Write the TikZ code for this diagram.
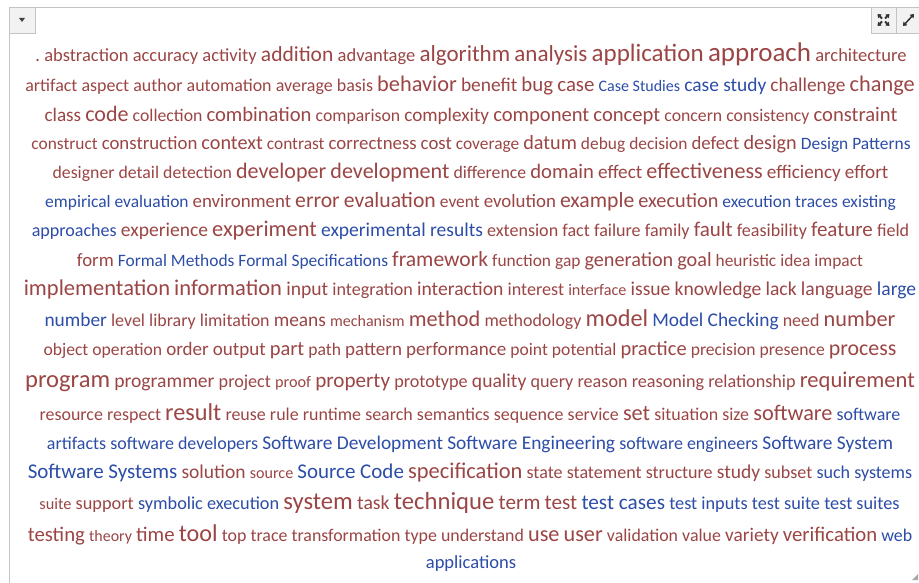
\documentclass[tikz,border=0pt]{standalone}
\usepackage{fontspec}
\setmainfont{Carlito}
\usetikzlibrary{positioning,arrows.meta,calc}
\definecolor{wordred}{HTML}{9B4545}
\definecolor{wordblue}{HTML}{2C4DA8}
\definecolor{framegray}{HTML}{C4C4C4}
\definecolor{btnfill}{HTML}{F2F2F2}
% word sizes, level 0 (smallest) to 6 (largest), times the line factor \lf
\newcommand\lf{1}
\newcommand\wsize[1]{\fpeval{\lf*\ifcase#1 16.5\or 18.5\or 20\or 21.5\or 23\or 25\or 27\fi}}
\newcommand\rw[2]{{\fontsize{\wsize{#1}}{\wsize{#1}}\selectfont #2}}
\newcommand\bw[2]{{\color{wordblue}\fontsize{\wsize{#1}}{\wsize{#1}}\selectfont #2}}

\begin{document}
\begin{tikzpicture}[x=1pt,y=1pt,
    cloudline/.style={anchor=base,inner sep=0pt,text=wordred,
      font=\def\lf{#1}\fontsize{\fpeval{19*#1}}{19}\selectfont},
    cloudline/.default=1,
    panelbtn/.style={fill=btnfill,draw=framegray,line width=0.6pt},
    icon/.style={line width=2pt,black!80,-{Triangle[length=3.5pt,width=5pt]}}]
  \useasboundingbox (0,0) rectangle (919,-583);
  \fill[white] (0,0) rectangle (919,-583);
  % panel frame and buttons
  \draw[framegray,line width=0.8pt] (9,-583) -- (9,-7) -- (919,-7);
  \draw[panelbtn] (9,-7) rectangle (35,-33);
  \fill[black!75] (19,-18) -- (25,-18) -- (22,-22) -- cycle;
  \draw[panelbtn] (871,-7) rectangle (896,-33);
  \draw[panelbtn] (896,-7) rectangle (920,-33);
  \coordinate (xc) at (883.5,-20);
  \foreach \dx/\dy in {1/1,1/-1,-1/1,-1/-1}
    \draw[icon] ($(xc)+(1.5*\dx,1.5*\dy)$) -- ($(xc)+(6*\dx,6*\dy)$);
  \draw[icon,{Triangle[length=3.5pt,width=5pt]}-{Triangle[length=3.5pt,width=5pt]},line width=1.5pt]
    (903,-26) -- (914,-14);
  \fill[gray!70] (912,-580) -- (918,-580) -- (918,-574) -- cycle;
  % word cloud, one node per line
  \node[cloudline] (l1) at (471,-62) {\rw1{.~abstraction} \rw1{accuracy} \rw1{activity} \rw3{addition} \rw1{advantage} \rw4{algorithm} \rw4{analysis} \rw5{application} \rw6{approach} \rw1{architecture}};
  \node[cloudline=0.97] (l2) at (470,-92) {\rw1{artifact} \rw1{aspect} \rw1{author} \rw1{automation} \rw1{average} \rw1{basis} \rw4{behavior} \rw2{benefit} \rw3{bug} \rw3{case} \bw0{Case Studies} \bw2{case study} \rw2{challenge} \rw4{change}};
  \node[cloudline=0.958] (l3) at (471,-121.5) {\rw2{class} \rw4{code} \rw1{collection} \rw3{combination} \rw1{comparison} \rw2{complexity} \rw3{component} \rw3{concept} \rw1{concern} \rw1{consistency} \rw3{constraint}};
  \node[cloudline=0.94] (l4) at (471,-149.5) {\rw1{construct} \rw2{construction} \rw3{context} \rw1{contrast} \rw2{correctness} \rw2{cost} \rw1{coverage} \rw3{datum} \rw1{debug} \rw1{decision} \rw2{defect} \rw3{design} \bw1{Design Patterns}};
  \node[cloudline=0.96] (l5) at (470.5,-178.5) {\rw1{designer} \rw1{detail} \rw1{detection} \rw4{developer} \rw4{development} \rw1{difference} \rw3{domain} \rw2{effect} \rw4{effectiveness} \rw2{efficiency} \rw2{effort}};
  \node[cloudline=0.943] (l6) at (470.5,-207.5) {\bw1{empirical evaluation} \rw2{environment} \rw4{error} \rw4{evaluation} \rw1{event} \rw2{evolution} \rw4{example} \rw3{execution} \bw1{execution traces} \bw1{existing}};
  \node[cloudline=0.976] (l7) at (470.5,-236.5) {\bw1{approaches} \rw2{experience} \rw4{experiment} \bw2{experimental results} \rw1{extension} \rw1{fact} \rw1{failure} \rw1{family} \rw3{fault} \rw1{feasibility} \rw3{feature} \rw1{field}};
  \node[cloudline=0.94] (l8) at (470,-266.5) {\rw2{form} \bw1{Formal Methods} \bw1{Formal Specifications} \rw4{framework} \rw1{function} \rw1{gap} \rw3{generation} \rw3{goal} \rw1{heuristic} \rw1{idea} \rw1{impact}};
  \node[cloudline=0.979] (l9) at (470,-295.5) {\rw4{implementation} \rw4{information} \rw2{input} \rw1{integration} \rw2{interaction} \rw1{interest} \rw0{interface} \rw2{issue} \rw2{knowledge} \rw2{lack} \rw2{language} \bw2{large}};
  \node[cloudline=0.969] (l10) at (470,-326) {\bw2{number} \rw1{level} \rw1{library} \rw1{limitation} \rw2{means} \rw0{mechanism} \rw4{method} \rw1{methodology} \rw5{model} \bw2{Model Checking} \rw1{need} \rw4{number}};
  \node[cloudline=0.952] (l11) at (470,-355) {\rw1{object} \rw1{operation} \rw2{order} \rw2{output} \rw3{part} \rw1{path} \rw2{pattern} \rw2{performance} \rw1{point} \rw1{potential} \rw3{practice} \rw1{precision} \rw1{presence} \rw4{process}};
  \node[cloudline=0.981] (l12) at (470,-387) {\rw5{program} \rw2{programmer} \rw1{project} \rw0{proof} \rw3{property} \rw1{prototype} \rw2{quality} \rw1{query} \rw1{reason} \rw1{reasoning} \rw1{relationship} \rw4{requirement}};
  \node[cloudline=0.97] (l13) at (470,-420) {\rw1{resource} \rw1{respect} \rw5{result} \rw1{reuse} \rw1{rule} \rw1{runtime} \rw1{search} \rw1{semantics} \rw1{sequence} \rw1{service} \rw4{set} \rw1{situation} \rw1{size} \rw4{software} \bw1{software}};
  \node[cloudline=0.97] (l14) at (470,-449) {\bw1{artifacts} \bw1{software developers} \bw2{Software Development} \bw2{Software Engineering} \bw1{software engineers} \bw2{Software System}};
  \node[cloudline=0.976] (l15) at (470,-478) {\bw3{Software Systems} \rw2{solution} \rw0{source} \bw3{Source Code} \rw4{specification} \rw1{state} \rw1{statement} \rw1{structure} \rw2{study} \rw1{subset} \bw1{such systems}};
  \node[cloudline=0.987] (l16) at (469.5,-509.5) {\rw0{suite} \rw1{support} \bw1{symbolic execution} \rw5{system} \rw2{task} \rw5{technique} \rw3{term} \rw3{test} \bw3{test cases} \bw1{test inputs} \bw1{test suite} \bw1{test suites}};
  \node[cloudline=0.966] (l17) at (470,-541.5) {\rw3{testing} \rw0{theory} \rw3{time} \rw5{tool} \rw1{top} \rw1{trace} \rw1{transformation} \rw1{type} \rw1{understand} \rw4{use} \rw4{user} \rw1{validation} \rw1{value} \rw2{variety} \rw3{verification} \bw1{web}};
  \node[cloudline] (l18) at (471,-568) {\bw1{applications}};
\end{tikzpicture}
\end{document}
